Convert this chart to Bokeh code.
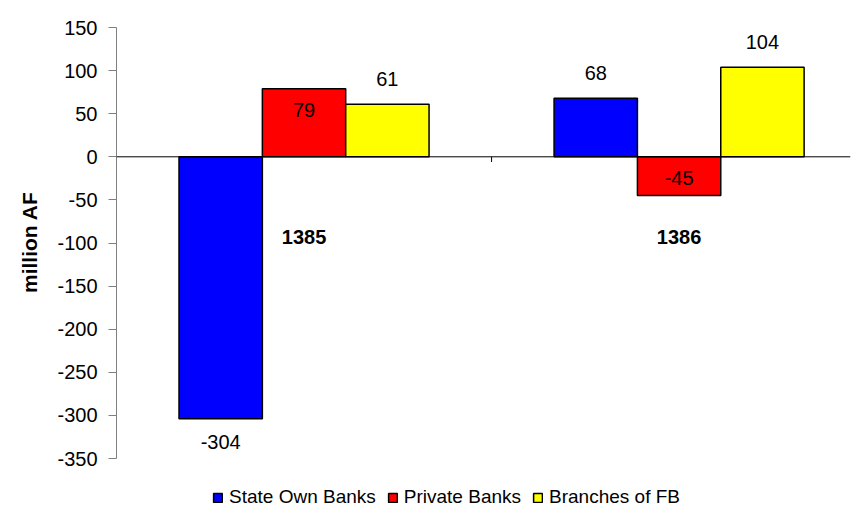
from bokeh.plotting import figure
from bokeh.models import (ColumnDataSource, LabelSet, Legend, LegendItem, Span,
                          FixedTicker, Range1d, NumeralTickFormatter, Title)
from bokeh.core.properties import value
from bokeh.embed import file_html
from bokeh.resources import INLINE

# ---- data ----
categories = ["1385", "1386"]
series_names = ["State Own Banks", "Private Banks", "Branches of FB"]
state_own = [-304, 68]
private_banks = [79, -45]
branches_fb = [61, 104]
y_ticks = [150, 100, 50, 0, -50, -100, -150, -200, -250, -300, -350]
y_title = "million AF"

# ---- style ----
FONT = "Liberation Sans"
FS = "20px"
colors = ["#0000FF", "#FF0000", "#FFFF00"]
series_values = [state_own, private_banks, branches_fb]
n_series = len(series_values)
gap = 1.5  # gap width as a fraction of bar width
bar_w = 1.0 / (n_series + gap)
# label placement: outside end for blue/yellow, inside end for red
label_inside = [False, True, False]

y_lo, y_hi = min(y_ticks), max(y_ticks)
# frame runs to the figure's bottom so the legend can sit inside it
p = figure(width=853, height=510,
           x_range=Range1d(0, 1.957), y_range=Range1d(y_hi - 560.3, y_hi),
           x_axis_type=None,
           output_backend="svg", toolbar_location=None,
           min_border_left=116, min_border_right=3,
           min_border_top=27, min_border_bottom=0)
p.outline_line_color = None
p.grid.visible = False
p.background_fill_color = "white"
p.border_fill_color = "white"

# y axis
ya = p.yaxis[0]
ya.bounds = (y_lo, y_hi)
ya.ticker = FixedTicker(ticks=y_ticks)
ya.formatter = NumeralTickFormatter(format="0")
ya.axis_line_color = "#808080"
ya.major_tick_line_color = "#808080"
ya.major_tick_in = 0
ya.major_tick_out = 8
ya.minor_tick_line_color = None
ya.major_label_standoff = 11
ya.major_label_text_font = FONT
ya.major_label_text_font_size = FS
ya.major_label_text_color = "black"

# y axis title
p.add_layout(Title(text=y_title, align="right", offset=164, standoff=28,
                   text_font=FONT, text_font_size="21px", text_font_style="bold",
                   text_color="black"), "left")

items = []
for s, (name, vals, col) in enumerate(zip(series_names, series_values, colors)):
    offset = (s - (n_series - 1) / 2) * bar_w
    xs = [i + 0.5 + offset for i in range(len(categories))]
    if label_inside[s]:
        yoff = [-21 if v >= 0 else 18 for v in vals]
    else:
        yoff = [25 if v >= 0 else -23 for v in vals]
    src = ColumnDataSource(dict(x=xs, top=vals, lbl=[str(v) for v in vals], yoff=yoff))
    r = p.vbar(x="x", top="top", bottom=0, width=bar_w, source=src,
               fill_color=col, line_color="black", line_width=1.5)
    items.append(LegendItem(label=name, renderers=[r]))
    labels = LabelSet(x="x", y="top", text="lbl", y_offset="yoff", source=src,
                      text_align="center", text_baseline="middle",
                      text_font=value(FONT), text_font_size=FS, text_color="black")
    p.add_layout(labels)

# zero (category) axis line with tick marks at category boundaries
p.add_layout(Span(location=0, dimension="width", line_color="black", line_width=1))
bounds = list(range(len(categories) + 1))
p.segment(x0=bounds, y0=[0] * len(bounds), x1=bounds, y1=[-6] * len(bounds),
          line_color="black", line_width=1)

# category labels
cat_src = ColumnDataSource(dict(x=[i + 0.5 for i in range(len(categories))],
                                y=[-93] * len(categories), t=categories))
p.text(x="x", y="y", text="t", source=cat_src, text_align="center",
       text_baseline="middle", text_font=value(FONT), text_font_size=FS,
       text_font_style="bold", text_color="black")

legend = Legend(items=items, orientation="horizontal", location=(96, 2),
                border_line_color=None, background_fill_alpha=0,
                padding=0, margin=0, spacing=11, label_standoff=6,
                glyph_width=11, glyph_height=11,
                label_text_font=FONT, label_text_font_size="19px",
                label_text_color="black")
p.add_layout(legend, "center")

open("out.html", "w").write(file_html(p, INLINE))
